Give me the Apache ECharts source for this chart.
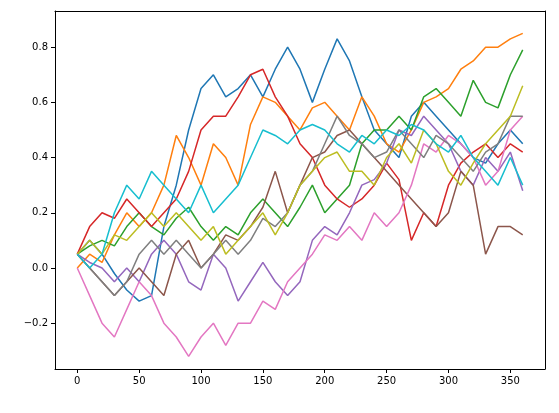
<!doctype html>
<html>
<head>
<meta charset="UTF-8">
<script src="https://cdn.jsdelivr.net/npm/echarts@6/dist/echarts.min.js"></script>
</head>
<body style="margin:0">
<div id="main" style="width:559px;height:413px;"></div>
<script>
    // steps sampled every 10
    var steps = [];
    for (var s = 0; s <= 360; s += 10) steps.push(s);
    var xTicks = [0, 50, 100, 150, 200, 250, 300, 350];
    var yTicks = [-0.2, 0, 0.2, 0.4, 0.6, 0.8];

    var walk0 = [0.05,0.1,0.05,-0.02,-0.08,-0.12,-0.1,0.15,0.3,0.5,0.65,0.7,0.62,0.65,0.7,0.62,0.72,0.8,0.72,0.6,0.72,0.83,0.75,0.62,0.5,0.45,0.4,0.55,0.6,0.55,0.5,0.45,0.4,0.38,0.45,0.5,0.45];
    var walk1 = [0.0,0.05,0.02,0.12,0.2,0.15,0.2,0.3,0.48,0.4,0.3,0.45,0.4,0.3,0.52,0.62,0.6,0.55,0.5,0.58,0.6,0.55,0.5,0.62,0.55,0.45,0.42,0.5,0.6,0.62,0.65,0.72,0.75,0.8,0.8,0.83,0.85];
    var walk2 = [0.05,0.08,0.1,0.08,0.15,0.2,0.15,0.12,0.18,0.22,0.15,0.1,0.15,0.12,0.2,0.25,0.2,0.15,0.22,0.3,0.2,0.25,0.3,0.45,0.5,0.5,0.55,0.5,0.62,0.65,0.6,0.55,0.68,0.6,0.58,0.7,0.79];
    var walk3 = [0.05,0.15,0.2,0.18,0.25,0.2,0.15,0.2,0.25,0.35,0.5,0.55,0.55,0.62,0.7,0.72,0.62,0.55,0.45,0.4,0.3,0.25,0.22,0.25,0.3,0.38,0.32,0.1,0.2,0.15,0.3,0.38,0.42,0.45,0.4,0.45,0.42];
    var walk4 = [0.05,0.02,0.0,-0.05,0.0,-0.05,0.05,0.1,0.05,-0.05,-0.08,0.05,0.0,-0.12,-0.05,0.02,-0.05,-0.1,-0.05,0.1,0.15,0.12,0.2,0.3,0.32,0.38,0.5,0.48,0.55,0.5,0.45,0.35,0.3,0.4,0.35,0.42,0.28];
    var walk5 = [0.05,0.0,-0.05,-0.1,-0.05,0.0,-0.05,-0.1,0.05,0.1,0.0,0.05,0.12,0.1,0.15,0.22,0.35,0.2,0.3,0.4,0.42,0.48,0.5,0.45,0.4,0.35,0.3,0.25,0.2,0.15,0.2,0.35,0.3,0.05,0.15,0.15,0.12];
    var walk6 = [0.0,-0.1,-0.2,-0.25,-0.15,-0.05,-0.1,-0.2,-0.25,-0.32,-0.25,-0.2,-0.28,-0.2,-0.2,-0.12,-0.15,-0.05,0.0,0.05,0.12,0.1,0.15,0.1,0.2,0.15,0.2,0.3,0.45,0.42,0.48,0.45,0.4,0.3,0.35,0.5,0.55];
    var walk7 = [0.05,0.0,-0.05,-0.1,-0.05,0.05,0.1,0.05,0.1,0.05,0.0,0.05,0.1,0.05,0.1,0.18,0.15,0.2,0.3,0.35,0.45,0.55,0.48,0.45,0.4,0.42,0.5,0.45,0.4,0.48,0.45,0.4,0.35,0.42,0.45,0.55,0.55];
    var walk8 = [0.05,0.1,0.05,0.12,0.1,0.15,0.2,0.15,0.2,0.15,0.1,0.15,0.05,0.1,0.15,0.2,0.12,0.2,0.3,0.35,0.4,0.42,0.35,0.35,0.3,0.4,0.45,0.38,0.5,0.45,0.35,0.3,0.38,0.45,0.5,0.55,0.66];
    var walk9 = [0.05,0.0,0.05,0.2,0.3,0.25,0.35,0.3,0.25,0.2,0.3,0.2,0.25,0.3,0.4,0.5,0.48,0.45,0.5,0.52,0.5,0.45,0.42,0.48,0.45,0.5,0.48,0.52,0.5,0.45,0.42,0.48,0.4,0.35,0.3,0.4,0.3];

    var walks = [walk0, walk1, walk2, walk3, walk4, walk5, walk6, walk7, walk8, walk9];
    var colors = ['#1f77b4','#ff7f0e','#2ca02c','#d62728','#9467bd','#8c564b','#e377c2','#7f7f7f','#bcbd22','#17becf'];

    var series = [];
    for (var i = 0; i < walks.length; i++) {
        var pts = [];
        for (var j = 0; j < steps.length; j++) pts.push([steps[j], walks[i][j]]);
        series.push({type: 'line', data: pts, showSymbol: false, lineStyle: {width: 1.5, color: colors[i]}, itemStyle: {color: colors[i]}});
    }

    function axis(min, max, ticks, fmt, pos) {
        return {
            type: 'value', min: min, max: max, position: pos,
            axisLine: {show: true, onZero: false, lineStyle: {color: '#000', width: 1}},
            axisTick: {show: !!fmt, length: 4, customValues: ticks, lineStyle: {color: '#000'}},
            axisLabel: {show: !!fmt, color: '#000', fontSize: 10, fontFamily: 'DejaVu Sans', margin: 7, customValues: ticks, formatter: fmt},
            splitLine: {show: false}
        };
    }

    var myChart = echarts.init(document.getElementById('main'));
    myChart.setOption({
        animation: false,
        grid: {left: 55, right: 14, top: 11, bottom: 44},
        xAxis: [
            axis(-18, 378, xTicks, function (v) { return String(v); }, 'bottom'),
            axis(-18, 378, xTicks, null, 'top')
        ],
        yAxis: [
            axis(-0.366, 0.931, yTicks, function (v) { return v.toFixed(1).replace('-', '\u2212'); }, 'left'),
            axis(-0.366, 0.931, yTicks, null, 'right')
        ],
        series: series
    });
</script>
</body>
</html>
